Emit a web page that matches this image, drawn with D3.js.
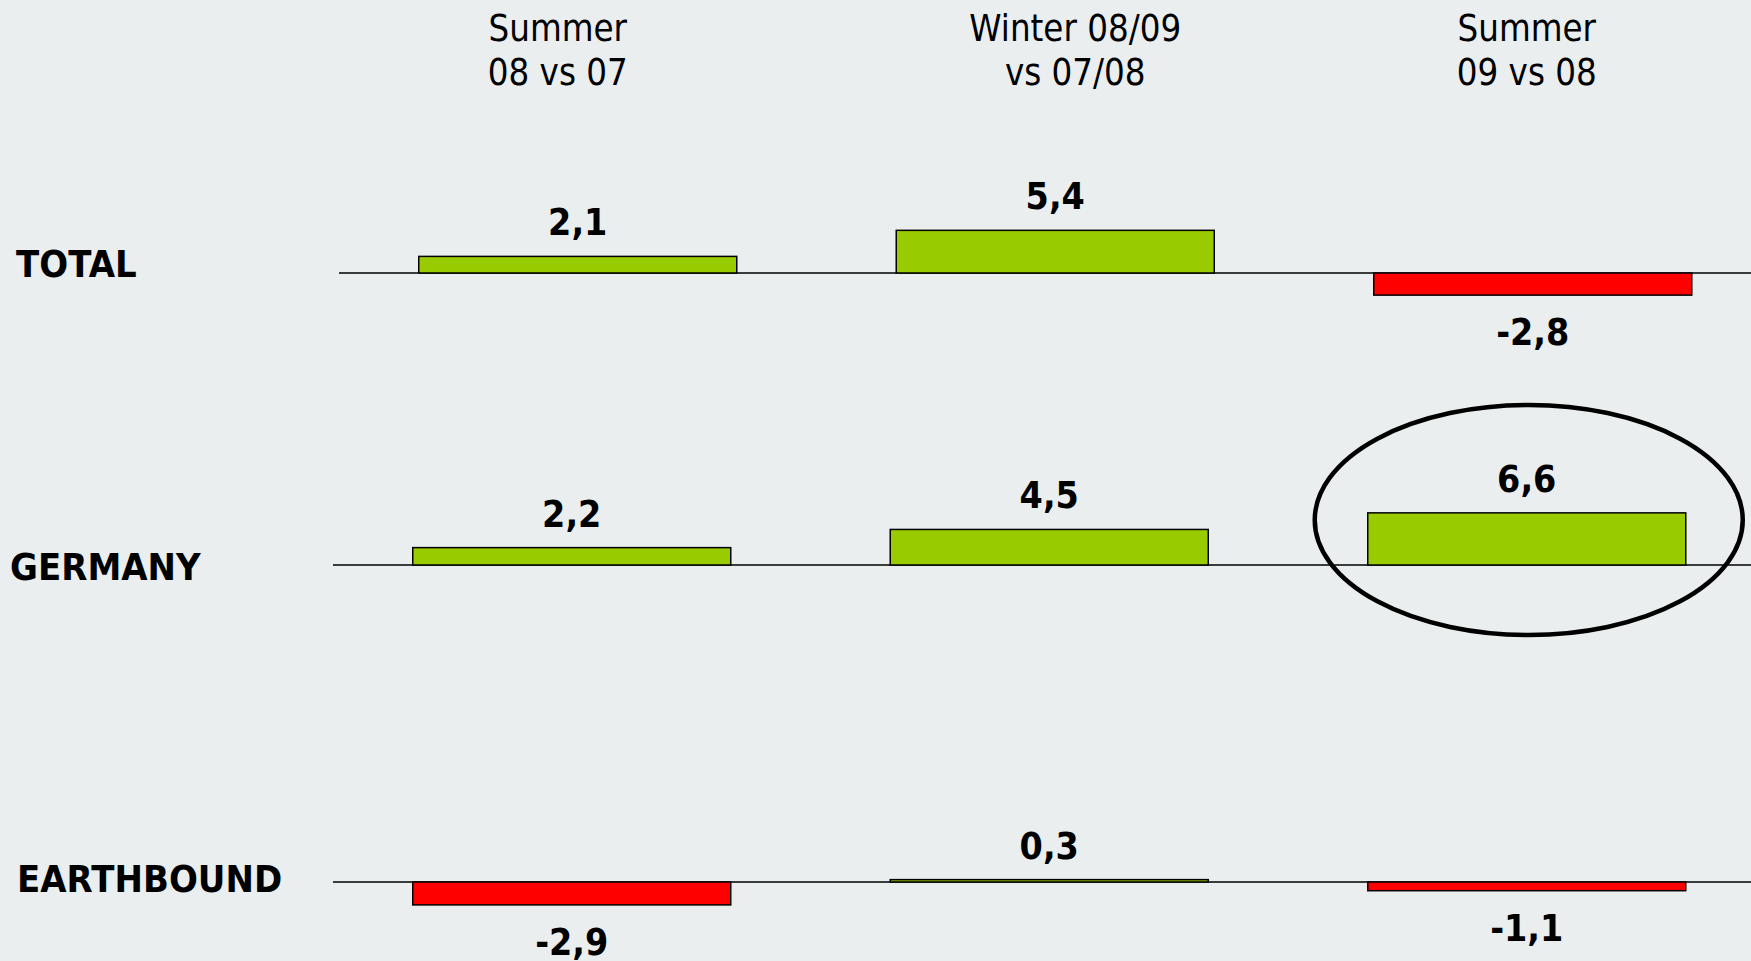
<!DOCTYPE html>
<html>
<head>
<meta charset="utf-8">
<script src="https://cdn.jsdelivr.net/npm/d3@7"></script>
<style>
  body { margin: 0; background: #eaeeef; }
  svg { display: block; }
</style>
</head>
<body>
<svg width="1751" height="961"></svg>
<script>
var periods = ["Summer 08 vs 07", "Winter 08/09 vs 07/08", "Summer 09 vs 08"];
var periodLines = [["Summer", "08 vs 07"], ["Winter 08/09", "vs 07/08"], ["Summer", "09 vs 08"]];
var regions = ["TOTAL", "GERMANY", "EARTHBOUND"];
var totalValues = [2.1, 5.4, -2.8];
var germanyValues = [2.2, 4.5, 6.6];
var earthboundValues = [-2.9, 0.3, -1.1];
var highlight = { region: "GERMANY", period: "Summer 09 vs 08" };

var rowValues = [totalValues, germanyValues, earthboundValues];

// layout
var rowBase = [273, 565, 882];
var rowShift = [6, 0, 0];
var labelX = [16, 10, 17];
var labelDy = [4, 15, 10];
var headerDx = [-14, 26, 0];

var svg = d3.select("svg"), width = +svg.attr("width"), height = +svg.attr("height");

var x = d3.scaleBand()
    .domain(periods)
    .range([333, 1765.5])
    .paddingInner(0.334)
    .paddingOuter(0.167);

var y = d3.scaleLinear()
    .domain([-3, 7])
    .range([3 * 7.9, -7 * 7.9]);

function fmt(v) { return d3.format(".1f")(v).replace(".", ",").replace("−", "-"); }

// column headers
var header = svg.selectAll(".header")
    .data(periods)
    .enter().append("g")
    .attr("class", "header")
    .attr("transform", function(d, i) { return "translate(" + (x(d) + x.bandwidth() / 2 + headerDx[i]) + ",0)"; });

header.selectAll("text")
    .data(function(d, i) { return periodLines[i]; })
    .enter().append("text")
    .attr("text-anchor", "middle")
    .attr("transform", function(d, j) { return "translate(0," + (41 + j * 44.3) + ") scale(0.87,1)"; })
    .style("font-family", "'DejaVu Sans', Verdana, sans-serif")
    .style("font-size", "37.5px")
    .style("fill", "#000")
    .text(function(d) { return d; });

// rows
var row = svg.selectAll(".row")
    .data(regions)
    .enter().append("g")
    .attr("class", "row");

row.append("text")
    .attr("transform", function(d, i) { return "translate(" + labelX[i] + "," + (rowBase[i] + labelDy[i]) + ") scale(0.925,1)"; })
    .style("font-family", "'DejaVu Sans', Verdana, sans-serif")
    .style("font-weight", "bold")
    .style("font-size", "36.8px")
    .text(function(d) { return d; });

var plot = row.append("g")
    .attr("transform", function(d, i) { return "translate(" + rowShift[i] + "," + rowBase[i] + ")"; });

plot.append("line")
    .attr("x1", x.range()[0])
    .attr("x2", width)
    .attr("y1", y(0))
    .attr("y2", y(0))
    .style("stroke", "#000")
    .style("stroke-width", 1.5);

plot.selectAll("rect")
    .data(function(d, i) { return rowValues[i].map(function(v, j) { return { period: periods[j], value: v }; }); })
    .enter().append("rect")
    .attr("x", function(d) { return x(d.period); })
    .attr("width", x.bandwidth())
    .attr("y", function(d) { return Math.min(y(d.value), y(0)); })
    .attr("height", function(d) { return Math.abs(y(d.value) - y(0)); })
    .style("fill", function(d) { return d.value >= 0 ? "#99cc00" : "#ff0000"; })
    .style("stroke", "#000")
    .style("stroke-width", 1.5);

plot.selectAll(".value")
    .data(function(d, i) { return rowValues[i].map(function(v, j) { return { period: periods[j], value: v }; }); })
    .enter().append("text")
    .attr("class", "value")
    .attr("text-anchor", "middle")
    .attr("transform", function(d) {
        var ty = d.value >= 0 ? y(d.value) - 21 : y(d.value) + 50;
        return "translate(" + (x(d.period) + x.bandwidth() / 2) + "," + ty + ") scale(0.91,1)";
    })
    .style("font-family", "'DejaVu Sans', Verdana, sans-serif")
    .style("font-weight", "bold")
    .style("font-size", "36.8px")
    .text(function(d) { return fmt(d.value); });

// highlight ellipse
var hi = regions.indexOf(highlight.region);
svg.append("ellipse")
    .attr("cx", x(highlight.period) + x.bandwidth() / 2 + rowShift[hi] + 2)
    .attr("cy", rowBase[hi] - 45)
    .attr("rx", x.bandwidth() / 2 + 55)
    .attr("ry", 115)
    .style("fill", "none")
    .style("stroke", "#000")
    .style("stroke-width", 4.5);
</script>
</body>
</html>
